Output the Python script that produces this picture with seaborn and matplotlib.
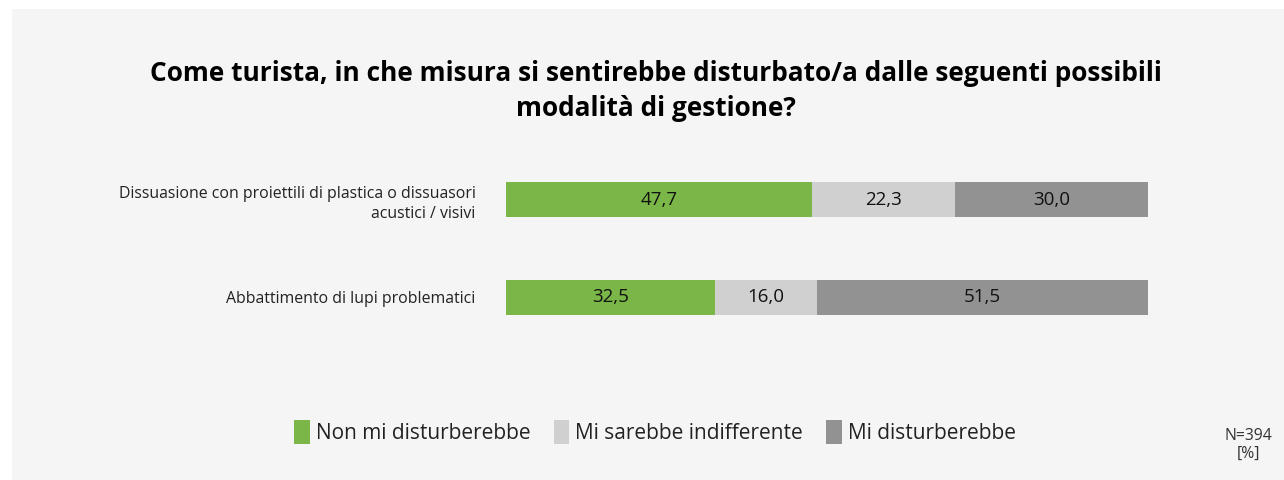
import pandas as pd
import seaborn as sns
import matplotlib.pyplot as plt
from matplotlib.patches import Patch, Rectangle

# values (percent, N=394)
categories = [
    "Dissuasione con proiettili di plastica o dissuasori\nacustici / visivi",
    "Abbattimento di lupi problematici",
]
responses = ["Non mi disturberebbe", "Mi sarebbe indifferente", "Mi disturberebbe"]
non_disturba = [47.7, 32.5]
indifferente = [22.3, 16.0]
disturba = [30.0, 51.5]
colors = ["#7ab648", "#d0d0d0", "#929292"]

df = pd.DataFrame({
    "categoria": categories,
    responses[0]: non_disturba,
    responses[1]: indifferente,
    responses[2]: disturba,
})
cum = df[responses].cumsum(axis=1)

sns.set_theme(style="white")
plt.rcParams['font.family'] = ['Open Sans', 'DejaVu Sans']

fig = plt.figure(figsize=(12.84, 4.8), dpi=100)
fig.patch.set_facecolor("white")
fig.patches.append(Rectangle((12 / 1284, 0), 1, 1 - 9 / 480, transform=fig.transFigure,
                             facecolor="#f5f5f5", edgecolor="none", zorder=-1))

ax = fig.add_axes([506 / 1284, 134 / 480, 642 / 1284, 195 / 480])
ax.set_facecolor("none")

# stacked bars: draw longest cumulative first so shorter ones sit on top
for resp, col in zip(reversed(responses), reversed(colors)):
    sns.barplot(x=cum[resp], y=df["categoria"], color=col, width=0.36,
                orient="h", ax=ax, saturation=1, linewidth=0)

# segment labels
for i, cat in enumerate(categories):
    prev = 0
    for resp in responses:
        val = df.loc[i, resp]
        ax.text(prev + val / 2, i, f"{val:.1f}".replace(".", ","), ha="center", va="center",
                fontsize=13.5, color="#111111")
        prev += val

ax.set_xlim(0, 100)
ax.set_ylim(1.5, -0.5)
ax.set_xlabel("")
ax.set_ylabel("")
ax.xaxis.set_visible(False)
ax.tick_params(axis="y", length=0, pad=22, labelsize=11.4, labelcolor="#222222")
for lbl in ax.get_yticklabels():
    lbl.set_linespacing(1.35)
sns.despine(ax=ax, left=True, bottom=True)

fig.text(656 / 1284, 1 - 91 / 480,
         "Come turista, in che misura si sentirebbe disturbato/a dalle seguenti possibili\nmodalità di gestione?",
         ha="center", va="center", fontsize=18.9, fontweight="bold", linespacing=1.4, color="black")

handles = [Patch(facecolor=c, edgecolor="none") for c in colors]
fig.legend(handles, responses, loc="center", bbox_to_anchor=(655 / 1284, 1 - 432 / 480),
           ncol=3, frameon=False, fontsize=15, handlelength=0.75, handleheight=1.35,
           handletextpad=0.3, columnspacing=1.1, labelcolor="#222222")

fig.text(1248 / 1284, 1 - 445 / 480, "N=394\n[%]", ha="center", va="center",
         fontsize=11.3, color="#333333", linespacing=1.2)

fig.savefig("out.png", dpi=100, facecolor=fig.get_facecolor())
